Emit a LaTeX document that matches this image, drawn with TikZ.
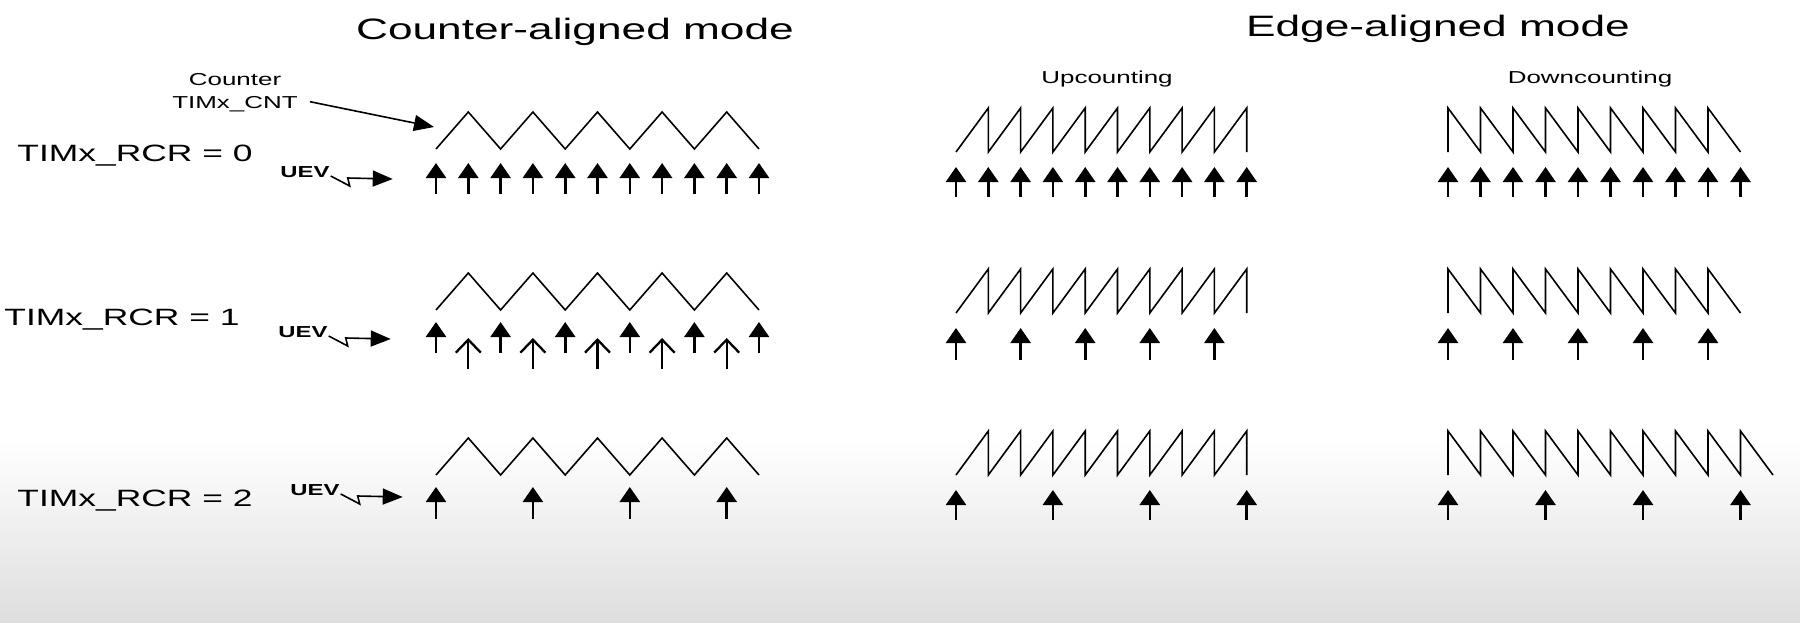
\documentclass[tikz,border=0pt]{standalone}
\usepackage{fontspec}
\setmainfont[FakeStretch=1.5]{Liberation Sans}
\usetikzlibrary{arrows.meta}
\definecolor{bggray}{RGB}{222,222,222}
\newcommand\triwave[2]{\draw[wave] (436,#2) \foreach \k [evaluate=\k as \yy using {mod(\k,2)==1?#1:#2}] in {1,...,10} { -- ({436+32.3*\k},\yy) };}
\newcommand\sawup[2]{\draw[wave] (956,#2) \foreach \k in {1,...,9} { -- ({956+32.3*\k},#1) -- ({956+32.3*\k},#2) };}
\newcommand\sawdn[3]{\draw[wave] (1448,#2) \foreach \k in {1,...,#3} { -- ({1448+32.5*(\k-1)},#1) -- ({1448+32.5*\k},#2) };}
\newcommand\evts[6]{\foreach \k in {#3} \draw[#6] ({#1+#2*\k},#5) -- ({#1+#2*\k},#4);}
\begin{document}
\begin{tikzpicture}[x=1pt,y=-1pt,
  wave/.style={line width=1.6pt, line join=miter},
  evt/.style={line width=2.6pt, -{Triangle[width=20pt,length=15pt]}},
  evo/.style={line width=2.3pt, -{Straight Barb[width=25pt,length=13pt]}},
  bolt/.style={line width=1.6pt, line join=miter, -{Triangle[width=16pt,length=20pt]}},
  title/.style={anchor=base, inner sep=0pt, font=\fontsize{29.5}{34}\selectfont},
  sub/.style={anchor=base, inner sep=0pt, font=\fontsize{17.3}{20}\selectfont},
  rcr/.style={anchor=base, inner sep=0pt, font=\fontsize{23.6}{28}\selectfont},
  uevl/.style={anchor=base, inner sep=0pt, font=\bfseries\fontsize{15.9}{18}\selectfont}]
\useasboundingbox (0,0) rectangle (1800,622);
\fill[white] (0,0) rectangle (1800,622);
\shade[top color=white, bottom color=bggray] (0,440) rectangle (1800,622);

% titles
\node[title] (t1) at (575,39) {Counter-aligned mode};
\node[title] (t2) at (1438,36) {Edge-aligned mode};
\node[sub] (up) at (1107,83) {Upcounting};
\node[sub] (dn) at (1590,83) {Downcounting};
\node[sub] (cnt1) at (235,85) {Counter};
\node[sub] (cnt) at (235,108) {TIMx\_CNT};
\coordinate (cntT) at (434,127);
\draw[bolt] (cnt.east) ++(12,-2) -- (cntT);

% row labels
\node[rcr] (r0) at (135,161) {TIMx\_RCR = 0};
\node[rcr] (r1) at (122,325) {TIMx\_RCR = 1};
\node[rcr] (r2) at (135,506) {TIMx\_RCR = 2};
\node[uevl] (u0) at (305,177) {UEV};
\node[uevl] (u1) at (303,337) {UEV};
\node[uevl] (u2) at (315,495) {UEV};
\foreach \u in {u0,u1,u2}
  \draw[bolt] (\u.base east) ++(1,-1) -- ++(19,10) -- ++(-2,-8) -- ++(45,1);

% counter-aligned
\triwave{112}{149}
\evts{436}{32.3}{0,...,10}{163}{194}{evt}
\triwave{273}{310}
\evts{436}{32.3}{0,2,...,10}{322}{353}{evt}
\evts{436}{32.3}{1,3,...,9}{338}{369}{evo}
\triwave{438}{475}
\evts{436}{32.3}{0,3,6,9}{487}{519}{evt}

% upcounting
\sawup{108}{152}
\evts{956}{32.3}{0,...,9}{167}{197}{evt}
\sawup{269}{313}
\evts{956}{32.3}{0,2,...,8}{328}{360}{evt}
\sawup{431}{475}
\evts{956}{32.3}{0,3,6,9}{490}{520}{evt}

% downcounting
\sawdn{108}{152}{9}
\evts{1448}{32.5}{0,...,9}{167}{197}{evt}
\sawdn{269}{313}{9}
\evts{1448}{32.5}{0,2,...,8}{328}{360}{evt}
\sawdn{431}{475}{10}
\evts{1448}{32.5}{0,3,6,9}{490}{520}{evt}
\end{tikzpicture}
\end{document}
